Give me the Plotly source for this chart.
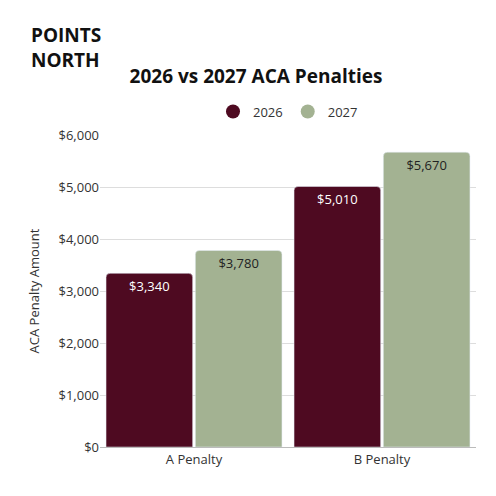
import plotly.graph_objects as go

categories = ["A Penalty", "B Penalty"]
v2026 = [3340, 5010]
v2027 = [3780, 5670]
labels2026 = ["$3,340", "$5,010"]
labels2027 = ["$3,780", "$5,670"]
c26, c27 = "#4e0a21", "#a3b292"

fig = go.Figure()
fig.add_bar(name="2026", x=categories, y=v2026, text=labels2026, marker_color=c26, showlegend=False,
            textposition="inside", insidetextanchor="end", textfont=dict(color="white", size=13))
fig.add_bar(name="2027", x=categories, y=v2027, text=labels2027, marker_color=c27, showlegend=False,
            textposition="inside", insidetextanchor="end", textfont=dict(color="#222", size=13))
for n, c in (("2026", c26), ("2027", c27)):
    fig.add_scatter(x=[None], y=[None], mode="markers", name=n,
                    marker=dict(color=c, size=14, symbol="circle"))
fig.update_layout(
    width=496, height=496, paper_bgcolor="white", plot_bgcolor="white",
    font=dict(family="Open Sans", color="#333", size=13),
    barmode="group", bargap=0.05, bargroupgap=0.03, barcornerradius=4,
    margin=dict(l=92, r=28, t=127, b=57, autoexpand=False),
    title=dict(text="<b>2026 vs 2027 ACA Penalties</b>", x=0.5, xanchor="center", y=0.862, yanchor="middle",
               font=dict(size=19, color="#111")),
    legend=dict(orientation="h", x=0.5, xanchor="center", y=1.075, yanchor="middle", font=dict(size=13)),
    yaxis=dict(range=[0, 6000], tickvals=[0, 1000, 2000, 3000, 4000, 5000, 6000],
               ticktext=["$0", "$1,000", "$2,000", "$3,000", "$4,000", "$5,000", "$6,000"],
               gridcolor="#dddddd", title=dict(text="ACA Penalty Amount", font=dict(size=13)),
               zeroline=False),
    xaxis=dict(showline=True, linecolor="#bbbbbb"),
    uniformtext=dict(mode="show", minsize=12),
)
fig.add_annotation(text="<b>POINTS<br>NORTH</b>", xref="paper", yref="paper", x=-0.19, y=1.37,
                   xanchor="left", yanchor="top", showarrow=False, align="left",
                   font=dict(size=19, color="#111", family="Open Sans"))
fig.write_html("out.html")
